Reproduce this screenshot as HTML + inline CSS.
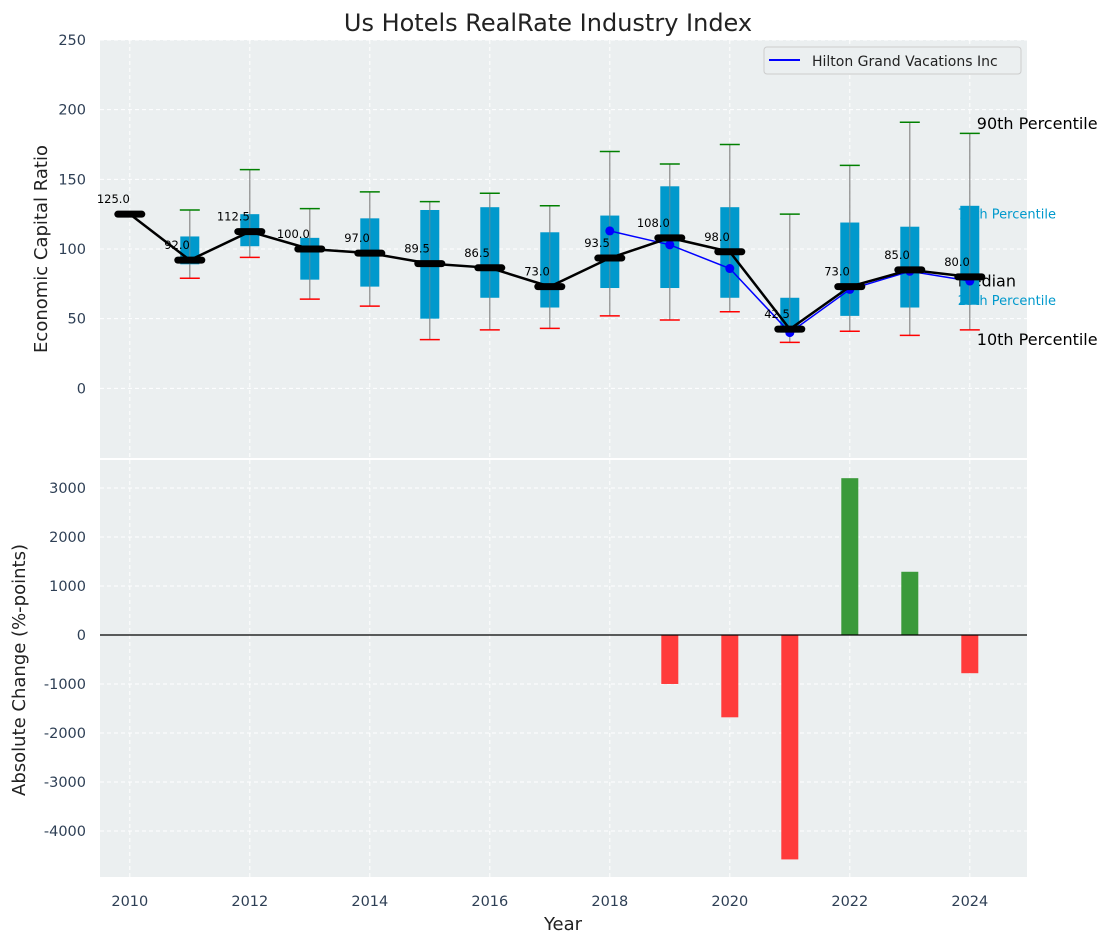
<!DOCTYPE html>
<html><head><meta charset="utf-8"><style>
body{margin:0;background:#fff;font-family:"Liberation Sans","DejaVu Sans",sans-serif}
svg text{font-family:"DejaVu Sans","Liberation Sans",sans-serif}
</style></head><body>
<svg id="c" width="1111" height="942" xmlns="http://www.w3.org/2000/svg"></svg>
<script>
const years=[2010,2011,2012,2013,2014,2015,2016,2017,2018,2019,2020,2021,2022,2023,2024];
const medians=[125,92,112.5,100,97,89.5,86.5,73,93.5,108,98,42.5,73,85,80];
const q1=[null,89,102,78,73,50,65,58,72,72,65,40,52,58,60];
const q3=[null,109,125,108,122,128,130,112,124,145,130,65,119,116,131];
const p10=[null,79,94,64,59,35,42,43,52,49,55,33,41,38,42];
const p90=[null,128,157,129,141,134,140,131,170,161,175,125,160,191,183];
const hiltonYears=[2018,2019,2020,2021,2022,2023,2024];
const hiltonVals=[113,103,86,40,71,84,77];
const changeYears=[2019,2020,2021,2022,2023,2024];
const changeVals=[-1000,-1680,-4580,3200,1290,-780];
const topTicks=[0,50,100,150,200,250];
const botTicks=[-4000,-3000,-2000,-1000,0,1000,2000,3000];
const xTicks=[2010,2012,2014,2016,2018,2020,2022,2024];

const S=document.getElementById('c'),NS='http://www.w3.org/2000/svg';
function el(t,a,p){const e=document.createElementNS(NS,t);for(const k in a)e.setAttribute(k,a[k]);(p||S).appendChild(e);return e;}
const L=100,R=1027,T1=40,B1=458,T2=460,B2=877;
const x=v=>1+L+(v-2009.52)/(2024.97-2009.52)*(R-L);
const y1=v=>T1+(250-v)/300*(B1-T1);
const y2=v=>T2+(3571-v)/(3571+4939)*(B2-T2);

let e=el('rect',{x:L,y:T1,width:R-L,height:B1-T1,fill:'#ebeff0'});

e=el('rect',{x:L,y:T2,width:R-L,height:B2-T2,fill:'#ebeff0'});

xTicks.forEach(v=>{[[T1,B1],[T2,B2]].forEach(([a,b])=>{e=el('line',{x1:x(v),x2:x(v),y1:a,y2:b,stroke:'#fff','stroke-dasharray':'4,3','stroke-width':1});
});});
topTicks.forEach(v=>{e=el('line',{x1:L,x2:R,y1:y1(v),y2:y1(v),stroke:'#fff','stroke-dasharray':'4,3'});

e=el('text',{x:L-14,y:y1(v)+5,'text-anchor':'end','font-size':14.5,fill:'#2e3f55'});e.textContent=v;
});
botTicks.forEach(v=>{e=el('line',{x1:L,x2:R,y1:y2(v),y2:y2(v),stroke:'#fff','stroke-dasharray':'4,3'});

e=el('text',{x:L-14,y:y2(v)+5,'text-anchor':'end','font-size':14.5,fill:'#2e3f55'});e.textContent=v;
});
xTicks.forEach(v=>{e=el('text',{x:x(v),y:906,'text-anchor':'middle','font-size':14.5,fill:'#2e3f55'});e.textContent=v;
});

const xl=x(2024);
[['90th Percentile',p90[14]+7,16,'#000'],['75th Percentile',q3[14]-6,13,'#0099cc'],['Median',medians[14]-3,16,'#000'],['25th Percentile',q1[14]+3,13,'#0099cc'],['10th Percentile',p10[14]-7,16,'#000']].forEach(([t,v,fs,c])=>{
 e=el('text',{x:t=='Median'?xl-12:(fs==13?xl-12:xl+7),y:y1(v)+fs/3,'font-size':fs,fill:c});e.textContent=t;
 });

years.forEach((yr,i)=>{
 if(q1[i]==null)return;const cx=x(yr),w=19;
 e=el('line',{x1:cx,x2:cx,y1:y1(p10[i]),y2:y1(p90[i]),stroke:'#888','stroke-width':1.2});
 
 e=el('rect',{x:cx-w/2,y:y1(q3[i]),width:w,height:y1(q1[i])-y1(q3[i]),fill:'#0099cc'});
 
 e=el('line',{x1:cx,x2:cx,y1:y1(q3[i]),y2:y1(q1[i]),stroke:'#888','stroke-opacity':0.7,'stroke-width':1});
 e=el('line',{x1:cx-10,x2:cx+10,y1:y1(p90[i]),y2:y1(p90[i]),stroke:'green','stroke-width':1.5});
 
 e=el('line',{x1:cx-10,x2:cx+10,y1:y1(p10[i]),y2:y1(p10[i]),stroke:'red','stroke-width':1.5});
 
});
e=el('polyline',{points:hiltonYears.map((v,i)=>x(v)+','+y1(hiltonVals[i])).join(' '),fill:'none',stroke:'blue','stroke-width':1.5});

hiltonYears.forEach((v,i)=>{e=el('circle',{cx:x(v),cy:y1(hiltonVals[i]),r:4.5,fill:'blue'});
});
e=el('polyline',{points:years.map((v,i)=>x(v)+','+y1(medians[i])).join(' '),fill:'none',stroke:'#000','stroke-width':2.5});

years.forEach((v,i)=>{const cx=x(v),cy=y1(medians[i]);
 e=el('line',{x1:cx-12,x2:cx+12,y1:cy,y2:cy,stroke:'#000','stroke-width':7,'stroke-linecap':'round'});
 
 e=el('text',{x:cx,y:cy-11,'text-anchor':'end','font-size':11.5,fill:'#000'});e.textContent=medians[i].toFixed(1);
 });

const lg=el('g',{});
el('rect',{x:764,y:47,width:257,height:27,rx:3,fill:'#ebeff0',stroke:'#ccc'},lg);
el('line',{x1:769,x2:800,y1:60,y2:60,stroke:'blue','stroke-width':2},lg);
e=el('text',{x:812,y:66,'font-size':14,fill:'#222'},lg);e.textContent='Hilton Grand Vacations Inc';

changeYears.forEach((v,i)=>{const val=changeVals[i],cx=x(v),a=y2(Math.max(val,0)),b=y2(Math.min(val,0));
 e=el('rect',{x:cx-8.5,y:a,width:17,height:b-a,fill:val>=0?'#3a9a3a':'#ff3b3b'});
 });
e=el('line',{x1:L,x2:R,y1:y2(0),y2:y2(0),stroke:'#000','stroke-width':1.2});


e=el('text',{x:548,y:31,'text-anchor':'middle','font-size':24,fill:'#222'});e.textContent='Us Hotels RealRate Industry Index';

e=el('text',{x:0,y:0,'text-anchor':'middle','font-size':18,fill:'#222',transform:'translate(47,249) rotate(-90)'});e.textContent='Economic Capital Ratio';

e=el('text',{x:0,y:0,'text-anchor':'middle','font-size':18,fill:'#222',transform:'translate(25,670) rotate(-90)'});e.textContent='Absolute Change (%-points)';

e=el('text',{x:563,y:930,'text-anchor':'middle','font-size':18,fill:'#222'});e.textContent='Year';

</script>
</body></html>
